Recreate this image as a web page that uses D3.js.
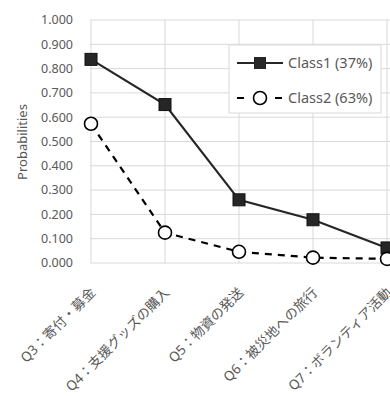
<!DOCTYPE html>
<html><head><meta charset="utf-8">
<script src="https://cdn.jsdelivr.net/npm/d3@7"></script>
<style>
body{margin:0;background:#fff;}
svg{display:block;}
text{font-family:"Noto Sans","Noto Sans CJK JP",sans-serif;fill:#595959;}
</style></head><body>
<svg id="c" width="390" height="396"></svg>
<script>
const categories = ["Q3：寄付・募金","Q4：支援グッズの購入","Q5：物資の発送","Q6：被災地への旅行","Q7：ボランティア活動"];
const class1 = [0.838, 0.652, 0.260, 0.178, 0.062];
const class2 = [0.573, 0.125, 0.046, 0.022, 0.017];
const seriesNames = ["Class1 (37%)","Class2 (63%)"];
const yTicks = [0,0.1,0.2,0.3,0.4,0.5,0.6,0.7,0.8,0.9,1.0];

const svg = d3.select("#c");
const x = d3.scalePoint().domain(categories).range([91,387]);
const y = d3.scaleLinear().domain([0,1]).range([263,20]);
const grid = "#d9d9d9";

svg.append("g").selectAll("line").data(yTicks).join("line")
  .attr("x1",90).attr("x2",390).attr("y1",d=>y(d)).attr("y2",d=>y(d))
  .attr("stroke",grid).attr("stroke-width",1);
svg.append("g").selectAll("line").data(categories).join("line")
  .attr("x1",d=>x(d)).attr("x2",d=>x(d)).attr("y1",y(1)).attr("y2",y(0))
  .attr("stroke",grid).attr("stroke-width",1);

svg.append("g").selectAll("text").data(yTicks).join("text")
  .attr("x",73).attr("y",d=>y(d)).attr("dy","0.35em")
  .attr("text-anchor","end").attr("font-size",12.5)
  .text(d=>d3.format(".3f")(d));

svg.append("text").attr("transform","translate(27,142) rotate(-90)")
  .attr("text-anchor","middle").attr("font-size",13).text("Probabilities");

svg.append("g").selectAll("text").data(categories).join("text")
  .attr("transform",d=>`translate(${x(d)+2},${290}) rotate(-45)`)
  .attr("text-anchor","end").attr("font-size",13.5).attr("dy","0.35em")
  .text(d=>d);

const line = d3.line().x((d,i)=>x(categories[i])).y(d=>y(d));
const dark = "#262626";

svg.append("path").datum(class2).attr("d",line).attr("fill","none")
  .attr("stroke","#000").attr("stroke-width",2.2).attr("stroke-dasharray","7,6");
svg.append("path").datum(class1).attr("d",line).attr("fill","none")
  .attr("stroke",dark).attr("stroke-width",2.2);

svg.append("g").selectAll("rect").data(class1).join("rect")
  .attr("x",(d,i)=>x(categories[i])-6).attr("y",d=>y(d)-6)
  .attr("width",12).attr("height",12).attr("fill",dark).attr("stroke","#111").attr("stroke-width",1);
svg.append("g").selectAll("circle").data(class2).join("circle")
  .attr("cx",(d,i)=>x(categories[i])).attr("cy",d=>y(d)).attr("r",6.5)
  .attr("fill","#fff").attr("stroke","#000").attr("stroke-width",1.6);

const lg = svg.append("g");
lg.append("rect").attr("x",229).attr("y",45).attr("width",152).attr("height",68)
  .attr("fill","#fff").attr("stroke",grid);
const ly = [63,98];
lg.append("line").attr("x1",237).attr("x2",283).attr("y1",ly[0]).attr("y2",ly[0])
  .attr("stroke",dark).attr("stroke-width",2.2);
lg.append("rect").attr("x",254).attr("y",ly[0]-6).attr("width",12).attr("height",12).attr("fill",dark);
lg.append("line").attr("x1",237).attr("x2",283).attr("y1",ly[1]).attr("y2",ly[1])
  .attr("stroke","#000").attr("stroke-width",2.2).attr("stroke-dasharray","7,12");
lg.append("circle").attr("cx",260).attr("cy",ly[1]).attr("r",6.5).attr("fill","#fff")
  .attr("stroke","#000").attr("stroke-width",1.6);
lg.selectAll("text.l").data(seriesNames).join("text").attr("class","l")
  .attr("x",288).attr("y",(d,i)=>ly[i]).attr("dy","0.35em").attr("font-size",14.5)
  .text(d=>d);
</script></body></html>
